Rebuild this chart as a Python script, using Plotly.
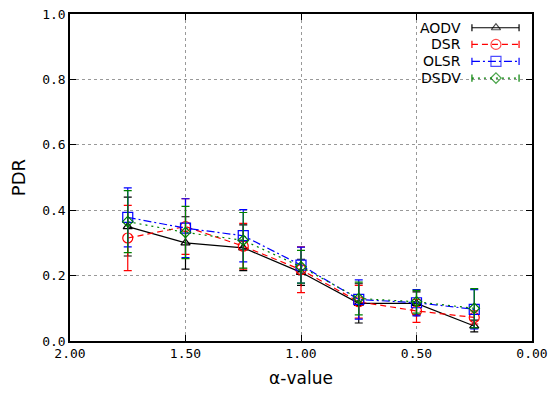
import plotly.graph_objects as go

alpha = [1.75, 1.50, 1.25, 1.00, 0.75, 0.50, 0.25]
series_names = ["AODV", "DSR", "OLSR", "DSDV"]
aodv = [0.350, 0.300, 0.285, 0.210, 0.115, 0.115, 0.046]
aodv_err = [0.090, 0.080, 0.070, 0.040, 0.060, 0.035, 0.018]
dsr = [0.315, 0.350, 0.290, 0.218, 0.120, 0.092, 0.072]
dsr_err = [0.100, 0.085, 0.070, 0.070, 0.050, 0.035, 0.020]
olsr = [0.378, 0.345, 0.322, 0.232, 0.127, 0.117, 0.097]
olsr_err = [0.090, 0.090, 0.080, 0.055, 0.060, 0.040, 0.060]
dsdv = [0.365, 0.332, 0.308, 0.227, 0.130, 0.120, 0.100]
dsdv_err = [0.095, 0.080, 0.085, 0.050, 0.050, 0.035, 0.060]

values = [aodv, dsr, olsr, dsdv]
errors = [aodv_err, dsr_err, olsr_err, dsdv_err]
colors = ["black", "red", "blue", "green"]
dashes = ["solid", "6px,4px", "8px,3px,2px,3px", "2px,4px"]
symbols = ["triangle-up-open", "circle-open", "square-open", "diamond-open"]
sizes = [8, 10, 10, 8]

fig = go.Figure()
for name, y, e, c, d, s, sz in zip(series_names, values, errors, colors, dashes, symbols, sizes):
    fig.add_trace(go.Scatter(
        x=alpha, y=y, name=name, mode="lines+markers",
        line=dict(color=c, width=1.2, dash=d),
        marker=dict(symbol=s, size=sz, color=c, line=dict(width=1.2, color=c)),
        error_y=dict(type="data", array=e, visible=True, color=c, thickness=1.2, width=4),
        showlegend=False,
    ))

# manual gnuplot-style key (text right-aligned, sample to the right)
key_rows = [0.958, 0.907, 0.855, 0.804]
for name, c, d, s, sz, ky in zip(series_names, colors, dashes, symbols, sizes, key_rows):
    fig.add_trace(go.Scatter(
        x=[0.870, 0.922, 0.972], y=[ky, ky, ky], xaxis="x2", yaxis="y2",
        mode="lines+markers", showlegend=False, hoverinfo="skip",
        line=dict(color=c, width=1.2, dash=d),
        marker=dict(symbol=s, size=[0, sz, 0], color=c, line=dict(width=1.2, color=c)),
        error_y=dict(type="data", array=[0.011, 0, 0.011], visible=True, color=c,
                     thickness=1.2, width=0),
    ))
    fig.add_annotation(x=0.851, y=ky, xref="x2", yref="y2", text=name, showarrow=False,
                       xanchor="right", yanchor="middle",
                       font=dict(family="DejaVu Sans", size=14, color="black"))

fig.update_layout(
    width=552, height=396,
    margin=dict(l=70, r=20, t=14, b=55),
    paper_bgcolor="white", plot_bgcolor="white",
    font=dict(family="DejaVu Sans Mono", size=13, color="black"),
    xaxis=dict(range=[2, 0], tickvals=[2.0, 1.5, 1.0, 0.5, 0.0], tickformat=".2f",
               showgrid=True, gridcolor="#999999", griddash="dot", gridwidth=1,
               showline=True, linecolor="black", linewidth=1.5, mirror="ticks",
               ticks="inside", ticklen=6, tickcolor="black", zeroline=False,
               automargin=False,
               title=dict(text="α-value", font=dict(family="DejaVu Sans", size=17), standoff=12)),
    yaxis=dict(range=[0, 1], tickvals=[0, 0.2, 0.4, 0.6, 0.8, 1.0], tickformat=".1f",
               showgrid=True, gridcolor="#999999", griddash="dot", gridwidth=1,
               showline=True, linecolor="black", linewidth=1.5, mirror="ticks",
               ticks="inside", ticklen=6, tickcolor="black", zeroline=False,
               automargin=False,
               title=dict(text="PDR", font=dict(family="DejaVu Sans", size=18), standoff=12)),
    xaxis2=dict(overlaying="x", range=[0, 1], visible=False, fixedrange=True),
    yaxis2=dict(overlaying="y", range=[0, 1], visible=False, fixedrange=True),
)

fig.write_html("out.html")
